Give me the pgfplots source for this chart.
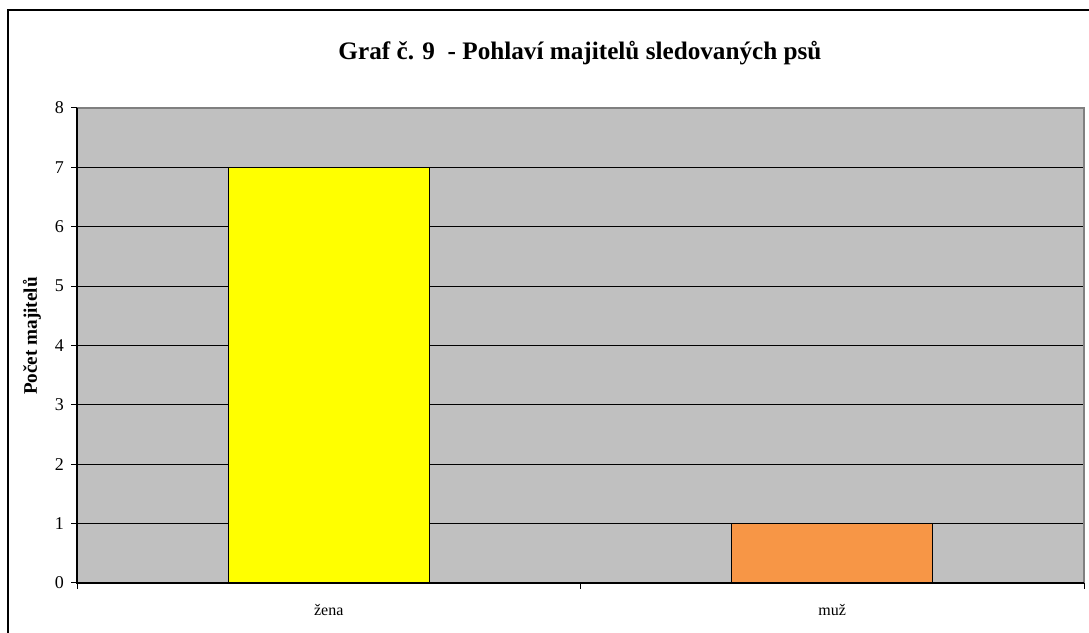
\documentclass[border=0pt]{standalone}
\usepackage{pgfplots}
\pgfplotsset{compat=1.18}
\usepackage{fontspec}
\setmainfont{Liberation Serif}
\definecolor{plotgray}{HTML}{C0C0C0}
\definecolor{baryellow}{HTML}{FFFF00}
\definecolor{barorange}{HTML}{F79646}
\definecolor{framegray}{HTML}{808080}
\begin{document}
\begin{tikzpicture}[x=0.5pt,y=0.5pt]
\useasboundingbox (0,0) rectangle (1089,633);
\begin{scope}
\clip (0,0) rectangle (1089,633);
\draw[line width=1pt] (8,-20) -- (8,623) -- (1120,623);
\end{scope}
\node[font=\bfseries\fontsize{12.6}{14}\selectfont] at (580,580) {Graf č. 9\ \ - Pohlaví majitelů sledovaných psů};
\node[font=\bfseries\fontsize{9.6}{11}\selectfont, rotate=90] at (32,297) {Počet majitelů};
\begin{axis}[
  at={(38.5pt,25pt)}, anchor=south west,
  width=503.5pt, height=237.5pt, scale only axis,
  xmin=-0.5, xmax=1.5, ymin=0, ymax=8,
  axis line style={draw=none},
  axis background/.style={fill=plotgray},
  ytick={0,...,8},
  ymajorgrids,
  grid style={black, line width=0.5pt},
  tick align=outside,
  xtick pos=bottom, ytick pos=left,
  major tick length=3pt,
  tick style={black, line width=0.5pt},
  xtick={-0.5,0.5,1.5},
  xticklabels={},
  extra x ticks={0,1},
  extra x tick labels={žena,muž},
  extra x tick style={major tick length=0pt, grid=none, tick label style={yshift=-7pt}},
  xticklabel style={font=\fontsize{8}{10}\selectfont},
  yticklabel style={font=\fontsize{9}{10}\selectfont},
  /pgf/number format/assume math mode=true,
  clip=false,
]
\addplot[ybar, bar width=0.4, fill=baryellow, draw=black, line width=0.5pt] coordinates {(0,7)};
\addplot[ybar, bar width=0.4, fill=barorange, draw=black, line width=0.5pt] coordinates {(1,1)};
\draw[framegray, line width=0.7pt] (axis cs:-0.5,8) -- (axis cs:1.5,8) -- (axis cs:1.5,0);
\draw[black, line width=0.8pt] (axis cs:-0.5,8) -- (axis cs:-0.5,0) -- (axis cs:1.5,0);
\end{axis}
\end{tikzpicture}
\end{document}
